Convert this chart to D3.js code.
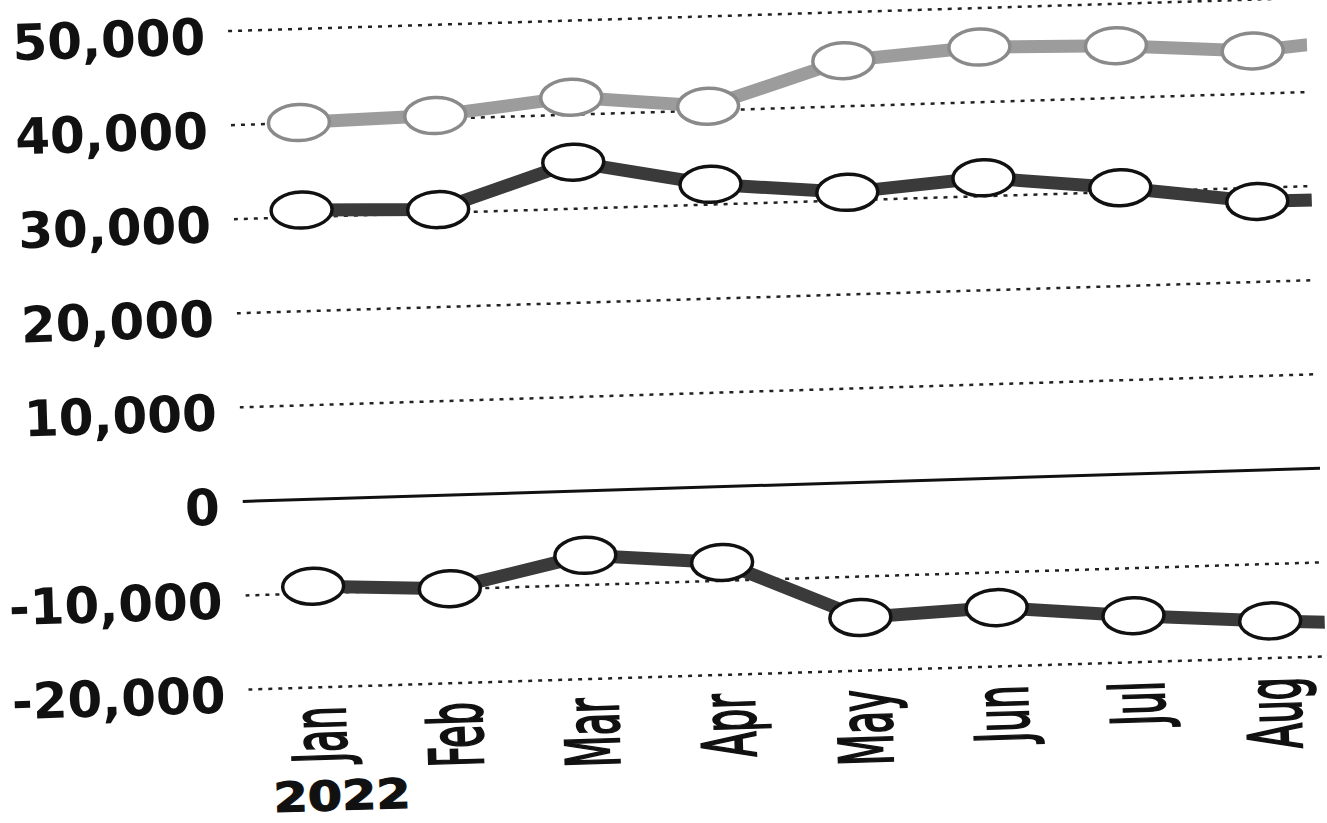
<!DOCTYPE html>
<html>
<head>
<meta charset="utf-8">
<script src="https://cdn.jsdelivr.net/npm/d3@7"></script>
<style>
  body { margin: 0; background: #fff; }
  svg { display: block; }
  .y-axis text { font-family: 'DejaVu Sans', Verdana, sans-serif; font-weight: bold; font-size: 50px; fill: #111; }
  .month { font-family: 'DejaVu Sans', Verdana, sans-serif; font-size: 74px; fill: #111; stroke: #111; stroke-width: 2.5px; }
  .year { font-family: 'DejaVu Sans', Verdana, sans-serif; font-weight: bold; font-size: 41px; fill: #111; stroke: #111; stroke-width: 1.2px; }
</style>
</head>
<body>
<svg id="chart"></svg>
<script>
// values (Sep is only visible as the stub running off the right edge)
const months = ['Jan', 'Feb', 'Mar', 'Apr', 'May', 'Jun', 'Jul', 'Aug', 'Sep'];
const upperValues = [40000, 40300, 41800, 40400, 44800, 45800, 45500, 44500, 45700];
const middleValues = [30700, 30300, 34900, 32100, 30800, 31900, 30400, 28500, 28400];
const lowerValues = [-9300, -10000, -6900, -8100, -14400, -13800, -15100, -16100, -16900];
const yTicks = [-20000, -10000, 0, 10000, 20000, 30000, 40000, 50000];
const yearLabel = '2022';

const width = 1327, height = 823;
// the scanned page is turned slightly, so the whole chart gets rotated
const tilt = -1.76;
const plot = {left: 227, right: 1305, top: 37.6, bottom: 696.3};

const svg = d3.select('#chart')
    .attr('width', width)
    .attr('height', height);

svg.append('rect')
    .attr('width', width)
    .attr('height', height)
    .attr('fill', '#fff');

const chart = svg.append('g')
    .attr('transform', `rotate(${tilt})`);

chart.append('clipPath')
    .attr('id', 'plot-clip')
  .append('rect')
    .attr('x', 0)
    .attr('y', -200)
    .attr('width', plot.right)
    .attr('height', 1200);

const xScale = d3.scalePoint()
    .domain(months)
    .range([295, 295 + 136.5 * (months.length - 1)]);

const yScale = d3.scaleLinear()
    .domain([-20000, 50000])
    .range([plot.bottom, plot.top]);

// y axis: labels + gridlines
const fmt = d3.format(',');
const yAxis = d3.axisLeft(yScale)
    .tickValues(yTicks)
    .tickSize(-(plot.right - plot.left))
    .tickPadding(23)
    .tickFormat(d => fmt(d).replace('\u2212', '-'));

const yAxisG = chart.append('g')
    .attr('class', 'axis y-axis')
    .attr('transform', `translate(${plot.left},0)`)
    .call(yAxis);

yAxisG.select('.domain').remove();
yAxisG.attr('font-family', null).attr('font-size', null);
yAxisG.selectAll('.tick text').attr('dy', '0.45em');
yAxisG.selectAll('.tick line')
    .attr('clip-path', 'url(#plot-clip)')
    .attr('stroke', d => d === 0 ? '#111' : '#222')
    .attr('stroke-width', d => d === 0 ? 3 : 2.5)
    .attr('stroke-dasharray', d => d === 0 ? null : '4,6');

// series
const series = [
  {name: 'upper', values: upperValues, line: '#9c9c9c', ring: '#8a8a8a'},
  {name: 'middle', values: middleValues, line: '#3a3a3a', ring: '#111'},
  {name: 'lower', values: lowerValues, line: '#3a3a3a', ring: '#111'}
];

const line = d3.line()
    .x((d, i) => xScale(months[i]))
    .y(d => yScale(d));

const seriesG = chart.append('g')
    .attr('clip-path', 'url(#plot-clip)');

seriesG.selectAll('.series-line')
    .data(series)
  .join('path')
    .attr('class', 'series-line')
    .attr('d', d => line(d.values))
    .attr('fill', 'none')
    .attr('stroke', d => d.line)
    .attr('stroke-width', 13);

seriesG.selectAll('.marker-group')
    .data(series)
  .join('g')
    .attr('class', 'marker-group')
  .selectAll('ellipse')
    .data(d => d.values.map((v, i) => ({month: months[i], value: v, ring: d.ring})))
  .join('ellipse')
    .attr('cx', d => xScale(d.month))
    .attr('cy', d => yScale(d.value))
    .attr('rx', 30.5)
    .attr('ry', 18)
    .attr('fill', '#fff')
    .attr('stroke', d => d.ring)
    .attr('stroke-width', 3.5);

// month labels, turned upright and narrow
chart.selectAll('.month')
    .data(months)
  .join('text')
    .attr('class', 'month')
    .attr('text-anchor', 'end')
    .attr('transform', d => `translate(${xScale(d) + 28},716) rotate(-90) scale(0.495,1)`)
    .text(d => d);

chart.append('text')
    .attr('class', 'year')
    .attr('transform', 'translate(249,820) scale(1.2,1)')
    .text(yearLabel);
</script>
</body>
</html>
